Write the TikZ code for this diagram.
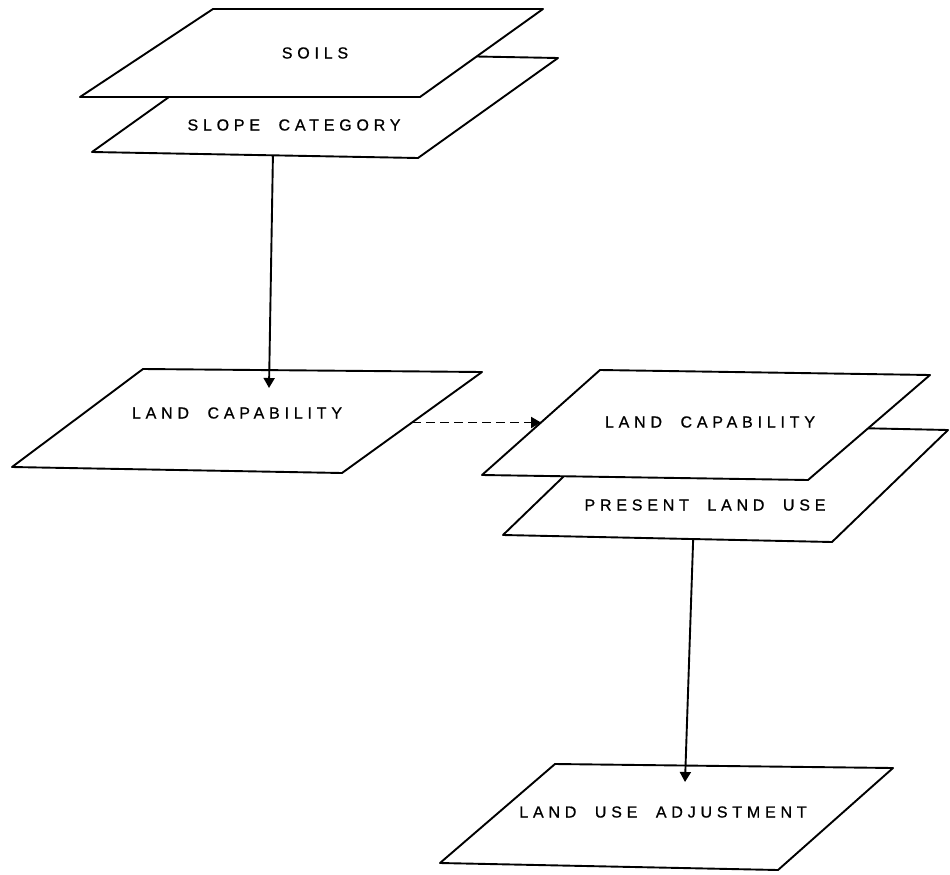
\documentclass[tikz,border=0pt]{standalone}
\usepackage{fontspec}
\setmainfont{Liberation Sans}
\newfontfamily\sheetfont[LetterSpace=30,WordSpace=2.0,FakeBold=0.8]{Liberation Sans}
\usetikzlibrary{arrows.meta,calc}

\begin{document}
\begin{tikzpicture}[x=1pt,y=-1pt,
  sheet/.style={draw=black,line width=1.9pt,fill=white,line join=round},
  sheetlabel/.style={font=\sheetfont\fontsize{16}{18}\selectfont,inner sep=0pt,anchor=center},
  flow/.style={line width=1.9pt,-{Triangle[length=10pt,width=11pt]}},
  dflow/.style={flow,dash pattern=on 9pt off 5pt}]
\useasboundingbox (0,0) rectangle (950,875);

% --- upper stack: slope category under soils
\coordinate (slope-bl) at (92,152);
\coordinate (slope-br) at (418,158);
\coordinate (slope-tr) at (558,58);
\coordinate (slope-tl) at (232,52);
\draw[sheet] (slope-bl) -- (slope-br) -- (slope-tr) -- (slope-tl) -- cycle;

\coordinate (soils-bl) at (80,97);
\coordinate (soils-br) at (420,97);
\coordinate (soils-tr) at (543,9);
\coordinate (soils-tl) at (213,9);
\draw[sheet] (soils-bl) -- (soils-br) -- (soils-tr) -- (soils-tl) -- cycle;

\node[sheetlabel] (soils) at (315,53) {SOILS};
\node[sheetlabel] (slope) at (294,125) {SLOPE CATEGORY};

% --- land capability (single sheet)
\coordinate (capa-bl) at (12,467);
\coordinate (capa-br) at (342,473);
\coordinate (capa-tr) at (482,372);
\coordinate (capa-tl) at (143,369);
\draw[sheet] (capa-bl) -- (capa-br) -- (capa-tr) -- (capa-tl) -- cycle;
\node[sheetlabel] (capa) at (237,413) {LAND CAPABILITY};

% --- lower stack: present land use under land capability
\coordinate (use-bl) at (503,535);
\coordinate (use-br) at (832,542);
\coordinate (use-tr) at (948,430);
\coordinate (use-tl) at (619,423);
\draw[sheet] (use-bl) -- (use-br) -- (use-tr) -- (use-tl) -- cycle;

\coordinate (capb-bl) at (482,475);
\coordinate (capb-br) at (808,480);
\coordinate (capb-tr) at (930,375);
\coordinate (capb-tl) at (600,370);
\draw[sheet] (capb-bl) -- (capb-br) -- (capb-tr) -- (capb-tl) -- cycle;

\node[sheetlabel] (capb) at (710,422) {LAND CAPABILITY};
\node[sheetlabel] (use) at (705,505) {PRESENT LAND USE};

% --- land use adjustment
\coordinate (adj-bl) at (440,863);
\coordinate (adj-br) at (778,870);
\coordinate (adj-tr) at (893,768);
\coordinate (adj-tl) at (555,764);
\draw[sheet] (adj-bl) -- (adj-br) -- (adj-tr) -- (adj-tl) -- cycle;
\node[sheetlabel] (adj) at (663,812) {LAND USE ADJUSTMENT};

% --- connectors
\coordinate (slope-out) at ($(slope-bl)!0.555!(slope-br)$);
\coordinate (capa-in) at (269,388);
\draw[flow] (slope-out) -- (capa-in);

\coordinate (capa-out) at ($(capa-br)!0.5!(capa-tr)$);
\coordinate (capb-in) at ($(capb-bl)!0.5!(capb-tl)$);
\draw[dflow] (capa-out) -- (capb-in);

\coordinate (use-out) at ($(use-bl)!0.578!(use-br)$);
\coordinate (adj-in) at (685,782);
\draw[flow] (use-out) -- (adj-in);
\end{tikzpicture}
\end{document}
